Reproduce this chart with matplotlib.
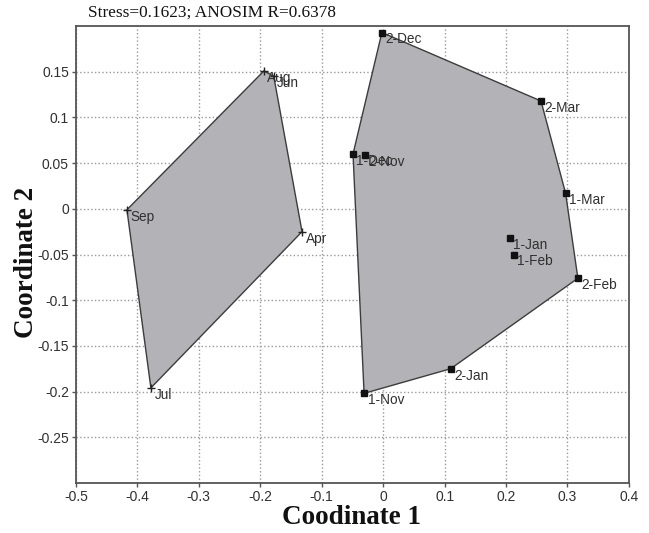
"""
NMDS ordination plot with convex hulls per group
"""
import matplotlib
matplotlib.use("Agg")
import matplotlib.pyplot as plt
from matplotlib.patches import Polygon

# Group 1 (crosses)
names_a = ["Aug", "Jun", "Apr", "Jul", "Sep"]
x_a = [-0.194, -0.178, -0.132, -0.378, -0.417]
y_a = [0.151, 0.145, -0.025, -0.196, -0.001]

# Group 2 (squares)
names_b = ["2-Dec", "2-Mar", "1-Mar", "2-Feb", "1-Jan", "1-Feb",
           "2-Jan", "1-Nov", "1-Dec", "2-Nov"]
x_b = [-0.002, 0.257, 0.297, 0.317, 0.206, 0.213, 0.110, -0.031, -0.049, -0.029]
y_b = [0.193, 0.118, 0.017, -0.076, -0.032, -0.050, -0.175, -0.202, 0.060, 0.059]

title = "Stress=0.1623; ANOSIM R=0.6378"
xticks = [-0.5, -0.4, -0.3, -0.2, -0.1, 0, 0.1, 0.2, 0.3, 0.4]
yticks = [-0.25, -0.2, -0.15, -0.1, -0.05, 0, 0.05, 0.1, 0.15]


def convex_hull(xs, ys):
    """Monotone chain hull"""
    pts = sorted(zip(xs, ys))

    def cross(o, a, b):
        return (a[0] - o[0]) * (b[1] - o[1]) - (a[1] - o[1]) * (b[0] - o[0])

    lower, upper = [], []
    for p in pts:
        while len(lower) >= 2 and cross(lower[-2], lower[-1], p) <= 0:
            lower.pop()
        lower.append(p)
    for p in reversed(pts):
        while len(upper) >= 2 and cross(upper[-2], upper[-1], p) <= 0:
            upper.pop()
        upper.append(p)
    return lower[:-1] + upper[:-1]


fig = plt.figure(figsize=(6.49, 5.33), dpi=100)
ax = fig.add_axes([0.117, 0.094, 0.852, 0.857])

fill_col = "#b3b3b7"
edge_col = "#3c3c3c"
for xs, ys in [(x_a, y_a), (x_b, y_b)]:
    hull = convex_hull(xs, ys)
    ax.add_patch(Polygon(hull, closed=True, facecolor=fill_col,
                         edgecolor=edge_col, linewidth=1, zorder=2))

ax.plot(x_a, y_a, linestyle="none", marker="+", markersize=6,
        markeredgewidth=1, color="#222222", zorder=3)
ax.plot(x_b, y_b, linestyle="none", marker="s", markersize=5,
        color="#111111", zorder=3)

label_kw = dict(textcoords="offset points", xytext=(2.5, -5), ha="left",
                va="center", fontsize=9.8, color="#303030",
                family="Liberation Sans", zorder=4)
for n, x, y in zip(names_a, x_a, y_a):
    ax.annotate(n, (x, y), **label_kw)
for n, x, y in zip(names_b, x_b, y_b):
    ax.annotate(n, (x, y), **label_kw)

ax.set_xlim(-0.5, 0.4)
ax.set_ylim(-0.3, 0.2)
ax.set_xticks(xticks)
ax.set_yticks(yticks)
ax.set_xticklabels([f"{t:g}" for t in xticks])
ax.set_yticklabels([f"{t:g}" for t in yticks])
ax.grid(True, linestyle=":", color="#9a9a9a", linewidth=1)
ax.set_axisbelow(True)

for s in ax.spines.values():
    s.set_color("#555555")
    s.set_linewidth(1.3)
ax.tick_params(direction="out", length=3, width=1, color="#555555",
               labelsize=10, labelcolor="#303030", pad=2)
for lbl in ax.get_xticklabels() + ax.get_yticklabels():
    lbl.set_family("Liberation Sans")

fig.text(88 / 649, 1 - 13 / 533, title, ha="left", va="center",
         fontsize=12.4, family="Liberation Serif", color="#111111")
fig.text(352 / 649, 1 - 517 / 533, "Coodinate 1", ha="center", va="center",
         fontsize=19.5, fontweight="bold", family="Liberation Serif", color="#111111")
fig.text(27 / 649, 1 - 262 / 533, "Coordinate 2", ha="center", va="center",
         rotation=90, fontsize=19.5, fontweight="bold", family="Liberation Serif",
         color="#111111")

fig.savefig("out.png", dpi=100)
plt.close(fig)
